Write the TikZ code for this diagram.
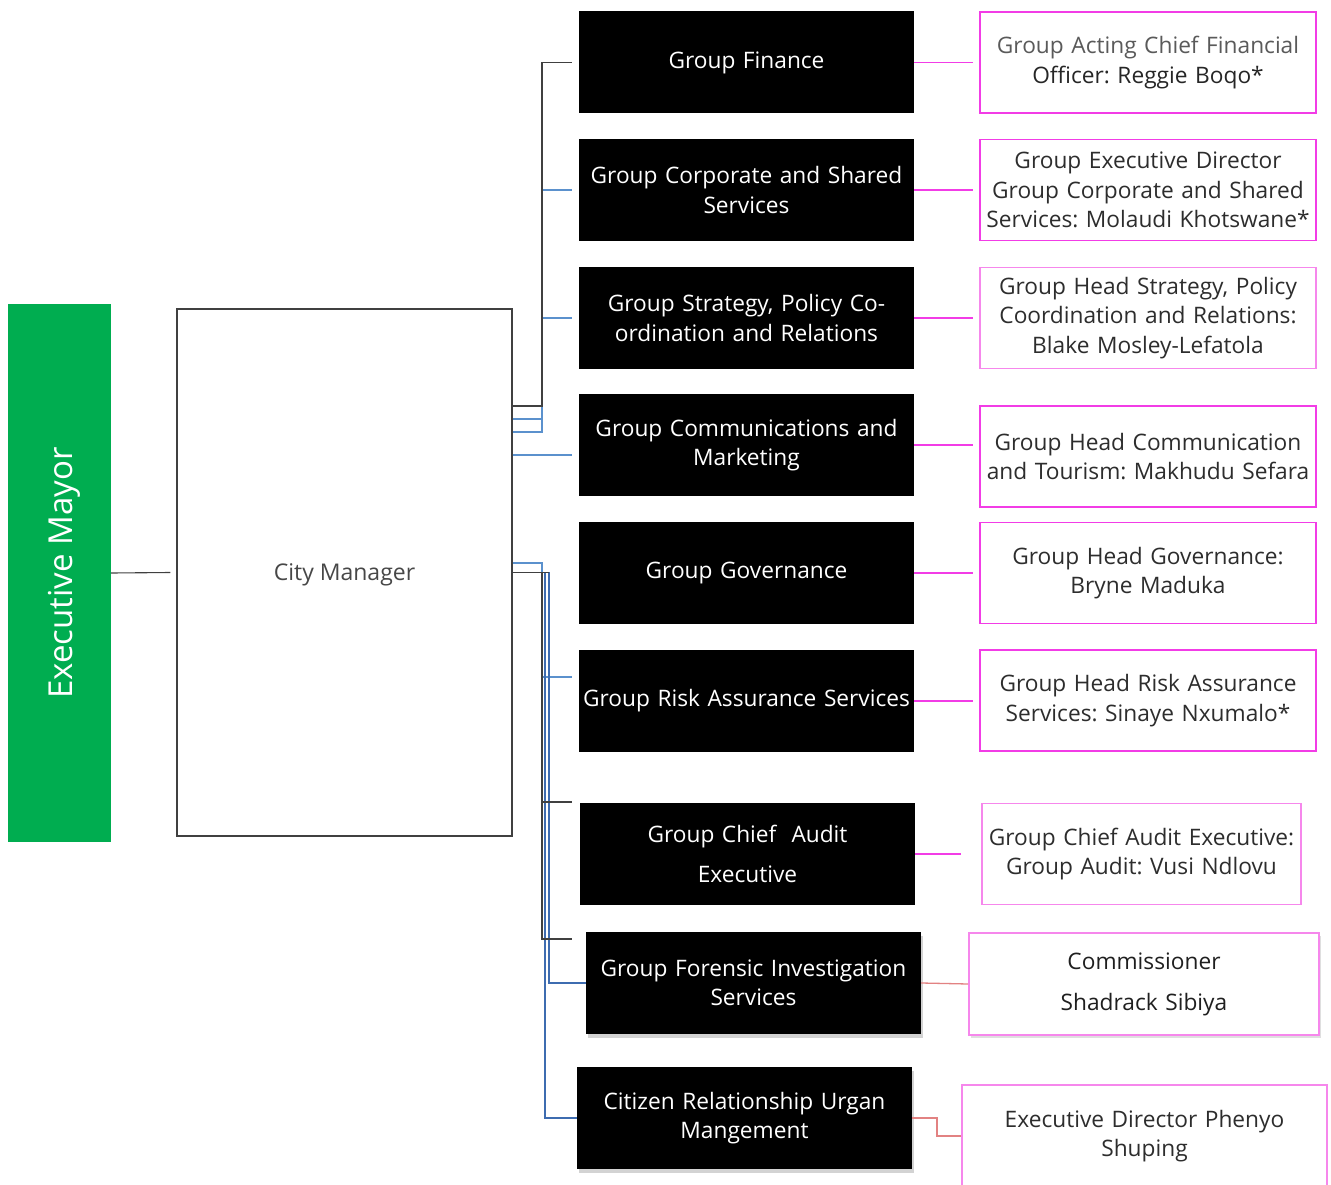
\documentclass[tikz,border=0pt]{standalone}
\usepackage{fontspec}
\setmainfont{Open Sans}
\frenchspacing
\usetikzlibrary{shadows,calc}

\definecolor{mayorgreen}{RGB}{0,173,80}
\definecolor{dkline}{RGB}{64,64,64}
\definecolor{bluel}{RGB}{91,145,205}
\definecolor{blued}{RGB}{62,108,176}
\definecolor{pinkb}{RGB}{242,60,230}
\definecolor{pinkl}{RGB}{246,135,236}
\definecolor{salmon}{RGB}{226,130,130}
\definecolor{txtd}{RGB}{45,45,45}
\definecolor{txtg}{RGB}{90,90,90}

\tikzset{
  body/.style={font=\fontsize{22.7}{29.3}\selectfont, align=center},
  unitbox/.style={body, fill=black, text=white, minimum width=335pt, minimum height=102pt,
    text width=331pt, inner sep=2pt},
  shadowbox/.style={unitbox, drop shadow={opacity=0.35, shadow xshift=2pt, shadow yshift=-4pt}},
  headbox/.style={body, draw=pinkb, line width=1.6pt, fill=white, text=txtd,
    minimum width=336pt, minimum height=101pt, text width=334pt, inner sep=1pt},
  darkwire/.style={draw=dkline, line width=1.1pt},
  bluewire/.style={draw=bluel, line width=1.1pt},
  blue2wire/.style={draw=blued, line width=1.4pt},
  pinkwire/.style={draw=pinkb, line width=1.2pt},
  salmonwire/.style={draw=salmon, line width=1.3pt},
}

\begin{document}
\begin{tikzpicture}[x=1pt, y=-1pt]
\useasboundingbox (0,0) rectangle (1331,1185);

% left column
\node[fill=mayorgreen, minimum width=103pt, minimum height=538pt, inner sep=0pt] (em) at (59.5,573) {};
\node[rotate=90, text=white, font=\fontsize{33}{40}\selectfont] at ([xshift=5pt]em.center) {Executive Mayor};
\node[draw=dkline, line width=1.3pt, minimum width=335pt, minimum height=527pt, inner sep=0pt] (cm) at (344.5,572.5) {};
\node[text=black!72, font=\fontsize{23}{29}\selectfont] at ([yshift=-2.5pt]cm.center) {City Manager};

% business units
\node[unitbox] (u1) at (746.5,62.5) {Group Finance};
\node[unitbox] (u2) at (746.5,190) {Group Corporate and Shared\\Services};
\node[unitbox] (u3) at (746.5,318) {Group Strategy, Policy Co-\\ordination and Relations};
\node[unitbox] (u4) at (746.5,445) {Group Communications and\\Marketing};
\node[unitbox] (u5) at (746.5,573) {Group Governance};
\node[unitbox] (u6) at (746.5,701) {Group Risk Assurance Services};
\node[unitbox] (u7) at (747.5,854) {Group Chief\ \ Audit\\[10.5pt]Executive};
\node[shadowbox] (u8) at (753.5,983) {Group Forensic Investigation\\Services};
\node[shadowbox] (u9) at (744.5,1118) {Citizen Relationship Urgan\\Mangement};

% heads
\node[headbox] (h1) at (1148,62.5) {{\color{txtg}Group Acting Chief Financial}\\{\color{black!85}Officer: Reggie Boqo*}};
\node[headbox] (h2) at (1148,190) {Group Executive Director\\Group Corporate and Shared\\Services: Molaudi Khotswane*};
\node[headbox, draw=pinkl] (h3) at (1148,318) {Group Head Strategy, Policy\\Coordination and Relations:\\Blake Mosley-Lefatola};
\node[headbox] (h4) at (1148,456.5) {Group Head Communication\\and Tourism: Makhudu Sefara};
\node[headbox] (h5) at (1148,573) {Group Head Governance:\\Bryne Maduka};
\node[headbox] (h6) at (1148,700.5) {Group Head Risk Assurance\\Services: Sinaye Nxumalo*};
\node[headbox, draw=pinkl, minimum width=319pt, text width=317pt] (h7) at (1141.5,854) {Group Chief Audit Executive:\\Group Audit: Vusi Ndlovu};
\node[headbox, draw=pinkl, minimum width=350pt, minimum height=102pt, text=black!88,
  drop shadow={opacity=0.25, shadow xshift=2pt, shadow yshift=-3pt}] (h8) at (1144,984)
  {Commissioner\\[11.5pt]Shadrack Sibiya};
\node[headbox, draw=pinkl, minimum width=365pt, minimum height=102pt] (h9) at (1144.5,1136)
  {Executive Director Phenyo\\Shuping};

% mayor to city manager
\draw[darkwire] (em.east) -- ([xshift=-6pt]cm.west);

% upper bus
\coordinate (busA) at (542,0);
\draw[bluewire] ([yshift=153.5pt]cm.east) -| (busA |- u2.west) -- ([xshift=-7pt]u2.west);
\draw[bluewire] ([yshift=140.5pt]cm.east) -| (busA |- u3.west) -- ([xshift=-7pt]u3.west);
\draw[bluewire] ([yshift=117.5pt]cm.east) -- ([xshift=-7pt]u4.west |- 0,455);
\draw[darkwire] ([yshift=166.5pt]cm.east) -| (busA |- u1.west) -- ([xshift=-7pt]u1.west);

% lower bus
\coordinate (busB) at (545,0);
\coordinate (busC) at (549,0);
\draw[bluewire] ([yshift=9.5pt]cm.east) -| (busA |- 0,677) -- ([xshift=-7pt]u6.west |- 0,677);
\draw[blue2wire] (cm.east) -| (busB |- u9.west) -- (u9.west);
\draw[blue2wire] (cm.east) -| (busC |- u8.west) -- (u8.west);
\draw[darkwire] (cm.east) -- (busC |- cm.east);
\draw[darkwire] (busA |- cm.east) -- (busA |- 0,939) -- ([xshift=-14pt]u8.west |- 0,939);
\draw[darkwire] (busA |- 0,802) -- ([xshift=-8pt]u7.west |- 0,802);

% heads connectors
\foreach \i in {1,...,6}{
  \draw[pinkwire] (u\i.east) -- ([xshift=-6pt]u\i.east -| h\i.west);
}
\draw[pinkwire] (u7.east) -- ([xshift=-20pt]h7.west);
\draw[salmonwire] (u8.east) -- (h8.west);
\coordinate (kink) at (937,0);
\draw[salmonwire] (u9.east) -- (kink |- u9.east) |- (h9.west);
\end{tikzpicture}
\end{document}
